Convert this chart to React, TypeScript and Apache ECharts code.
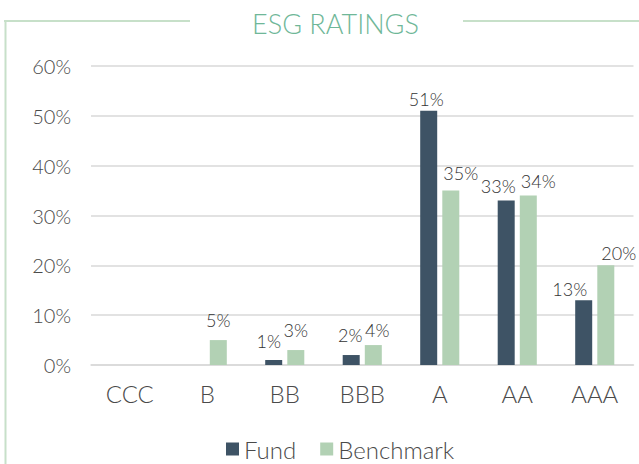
import React, { useEffect, useRef } from "react";
import * as echarts from "echarts";

const categories = ["CCC", "B", "BB", "BBB", "A", "AA", "AAA"];
const fundValues: (number | null)[] = [null, null, 1, 2, 51, 33, 13];
const benchmarkValues: (number | null)[] = [null, 5, 3, 4, 35, 34, 20];
const seriesNames = ["Fund", "Benchmark"];
const titleText = "ESG RATINGS";

// label nudges (pixels) to mimic the reference's label placement
const fundLabelNudge: [number, number][] = [[0, 0], [0, 0], [-5, -7], [-1, -8], [-2.5, 0], [-8, -2.5], [-14, 1]];
const benchLabelNudge: [number, number][] = [[0, 0], [0, -8], [0, -8], [4, -3], [10, -6], [10, -2.5], [13, 0]];

const FUND = "#3e5365";
const BENCH = "#b2d1b4";
const FRAME = "#c7e0c9";
const FONT = "Lato Light, Lato";
const AXIS_TEXT = "#4a4a4a";

export default function App() {
  const ref = useRef<HTMLDivElement>(null);
  useEffect(() => {
    if (!ref.current) return;
    const chart = echarts.init(ref.current, undefined, { renderer: "svg" });
    const labelCfg = {
      show: true,
      position: "top" as const,
      distance: 3,
      color: "#333333",
      fontFamily: FONT,
      fontWeight: 300,
      fontSize: 18,
      formatter: "{c}%",
    };
    const build = (vals: (number | null)[], nudge: [number, number][]) =>
      vals.map((v, i) => ({ value: v, label: { offset: nudge[i] } }));
    chart.setOption({
      animation: false,
      backgroundColor: "#ffffff",
      textStyle: { fontFamily: FONT },
      graphic: [
        { type: "line", shape: { x1: 4, y1: 21, x2: 190, y2: 21 }, style: { stroke: FRAME, lineWidth: 2 } },
        { type: "line", shape: { x1: 463, y1: 21, x2: 639, y2: 21 }, style: { stroke: FRAME, lineWidth: 2 } },
        { type: "line", shape: { x1: 5.5, y1: 20, x2: 5.5, y2: 464 }, style: { stroke: FRAME, lineWidth: 2 } },
        {
          type: "text",
          x: 335.5,
          y: 23,
          style: {
            text: titleText,
            fill: "#6fb798",
            font: "300 27px 'Lato Light', Lato",
            align: "center",
            verticalAlign: "middle",
          },
        },
      ],
      legend: {
        data: seriesNames,
        left: 221,
        top: 432,
        itemWidth: 13,
        itemHeight: 13,
        itemGap: 24,
        icon: "rect",
        textStyle: { color: AXIS_TEXT, fontSize: 24, fontFamily: FONT, fontWeight: 300 },
      },
      grid: { left: 91, right: 5.5, top: 66, bottom: 99, containLabel: false },
      xAxis: {
        type: "category",
        data: categories,
        axisLine: { show: true, lineStyle: { color: "#d9d9d9", width: 1.5 } },
        axisTick: { show: false },
        axisLabel: { color: AXIS_TEXT, fontSize: 24, fontFamily: FONT, fontWeight: 300, margin: 16 },
      },
      yAxis: {
        type: "value",
        min: 0,
        max: 60,
        interval: 10,
        axisLine: { show: false },
        axisTick: { show: false },
        axisLabel: { color: AXIS_TEXT, fontSize: 20, fontFamily: FONT, fontWeight: 300, margin: 20, formatter: "{value}%" },
        splitLine: { lineStyle: { color: "#d9d9d9", width: 1.5 } },
      },
      series: [
        {
          name: seriesNames[0],
          type: "bar",
          data: build(fundValues, fundLabelNudge),
          barWidth: 17,
          barGap: "30%",
          itemStyle: { color: FUND },
          label: labelCfg,
        },
        {
          name: seriesNames[1],
          type: "bar",
          data: build(benchmarkValues, benchLabelNudge),
          barWidth: 17,
          barGap: "30%",
          itemStyle: { color: BENCH },
          label: labelCfg,
        },
      ],
    });
    return () => chart.dispose();
  }, []);
  return <div ref={ref} style={{ width: 639, height: 464, position: "absolute", left: 0, top: 0 }} />;
}
